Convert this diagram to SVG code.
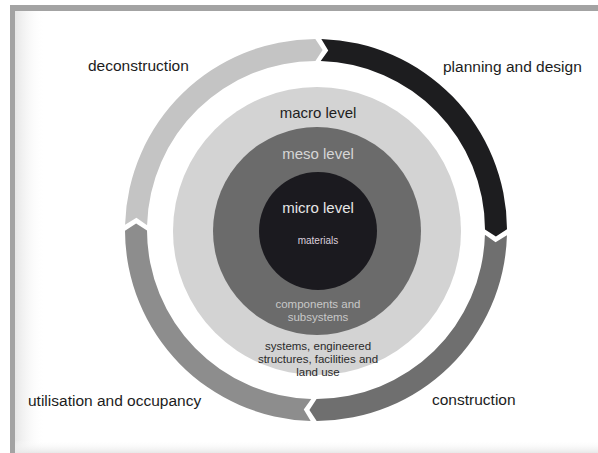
<svg xmlns="http://www.w3.org/2000/svg" width="598" height="453" viewBox="0 0 598 453">
<defs>
<linearGradient id="lshade" x1="0" y1="0" x2="1" y2="0">
<stop offset="0" stop-color="#e6e6e6"/>
<stop offset="1" stop-color="#ffffff" stop-opacity="0"/>
</linearGradient>
<linearGradient id="bshade" x1="0" y1="0" x2="0" y2="1">
<stop offset="0" stop-color="#ffffff" stop-opacity="0"/>
<stop offset="1" stop-color="#e8e8e8"/>
</linearGradient>
<path id="seg" d="M321.33,39.07 A191,191 0 0 1 507.0,229.33 L495.88,236.6 L485.0,229.41 A169,169 0 0 0 320.72,61.07 L328.24,50.42 Z"/>
</defs>
<style>
.lbl{font-family:"Liberation Sans",Arial,sans-serif;font-size:15.5px;fill:#1c1c1c}
.lvl{font-family:"Liberation Sans",Arial,sans-serif;font-size:15px;text-anchor:middle}
.sm{font-family:"Liberation Sans",Arial,sans-serif;font-size:11.5px;text-anchor:middle}
</style>
<rect x="0" y="0" width="598" height="453" fill="#ffffff"/>
<rect x="10" y="5" width="600" height="460" fill="#a3a3a3"/>
<rect x="15" y="11" width="590" height="450" fill="#ffffff"/>
<rect x="15" y="11" width="30" height="450" fill="url(#lshade)"/>
<rect x="15" y="440" width="590" height="13" fill="url(#bshade)"/>

<g id="levels">
<g id="macro">
<circle cx="317" cy="231" r="144" fill="#d3d3d3"/>
<text class="lvl" x="318" y="117.5" fill="#1e1e1e">macro level</text>
<text class="sm" fill="#2a2a2a"><tspan x="318" y="350">systems, engineered</tspan><tspan x="318" y="363">structures, facilities and</tspan><tspan x="318" y="376">land use</tspan></text>
</g>
<g id="meso">
<circle cx="317" cy="231" r="104" fill="#6b6b6b"/>
<text class="lvl" x="318" y="158.5" fill="#d6d6d6">meso level</text>
<text class="sm" fill="#c8c8c8"><tspan x="318" y="308">components and</tspan><tspan x="318" y="321">subsystems</tspan></text>
</g>
<g id="micro">
<circle cx="318" cy="231" r="59" fill="#1b1a1f"/>
<text class="lvl" x="318" y="212.5" fill="#e6e6e6">micro level</text>
<text x="318" y="243.5" font-family="Liberation Sans, Arial, sans-serif" font-size="10px" text-anchor="middle" fill="#dccfdc">materials</text>
</g>
</g>

<g id="connectors">
<g id="planning">
<use href="#seg" fill="#1d1d1f"/>
<text class="lbl" x="443" y="72">planning and design</text>
</g>
<g id="construction">
<use href="#seg" fill="#6f6f6f" transform="rotate(90 316 230)"/>
<text class="lbl" x="432" y="404.5">construction</text>
</g>
<g id="utilisation">
<use href="#seg" fill="#8d8d8d" transform="rotate(180 316 230)"/>
<text class="lbl" x="28" y="405.5">utilisation and occupancy</text>
</g>
<g id="deconstruction">
<use href="#seg" fill="#c4c4c4" transform="rotate(270 316 230)"/>
<text class="lbl" x="88" y="70.5">deconstruction</text>
</g>
</g>
</svg>
